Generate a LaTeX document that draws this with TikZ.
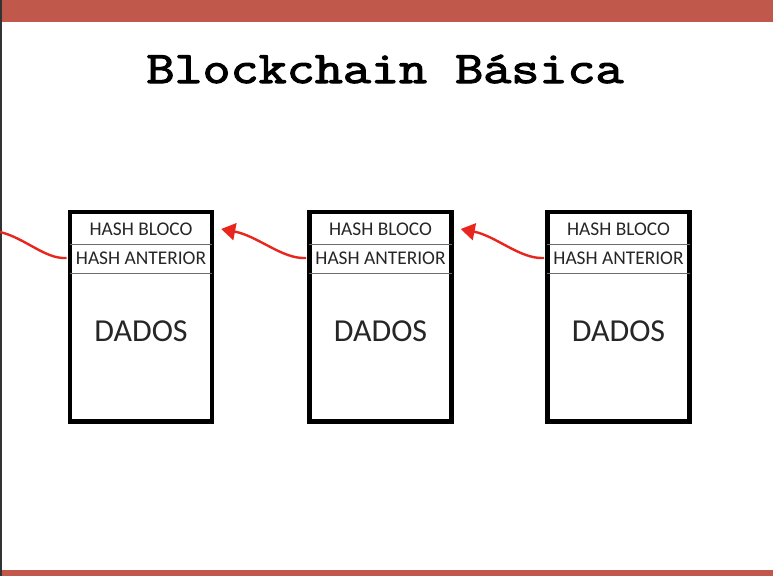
\documentclass[tikz,border=0pt]{standalone}
\usepackage{fontspec}
\setmainfont{Carlito}
\newfontfamily\titlefont{Latin Modern Mono}[FakeBold=2.4]
\usetikzlibrary{arrows.meta}
\definecolor{barred}{HTML}{C0584B}
\definecolor{txt}{HTML}{262626}
\definecolor{arrred}{HTML}{E8261E}
\tikzset{
  blockbox/.style={draw=black, line width=4.5pt, minimum width=142pt, minimum height=209.5pt, inner sep=0pt},
  rowcell/.style={minimum width=142pt, minimum height=29pt, inner sep=0pt, text height=12.5pt, text depth=0pt, text=txt, font=\fontsize{19.4}{20}\selectfont},
  datacell/.style={inner sep=0pt, text height=20.6pt, text depth=0pt, text=txt, font=\fontsize{32}{34}\selectfont},
  sepline/.style={draw=gray!85!black, line width=1.3pt},
  link/.style={draw=arrred, line width=2.4pt, line cap=round},
  linkarrow/.style={link, -{Triangle[length=14pt,width=17pt]}},
}
\begin{document}
\begin{tikzpicture}[x=1pt,y=-1pt]
\useasboundingbox (0,0) rectangle (773,576);
\fill[white] (0,0) rectangle (773,576);
% bars
\fill[barred] (0,0) rectangle (773,22);
\fill[barred] (0,569.5) rectangle (773,576);
\fill[black!80] (0,0) rectangle (2,576);
% title
\node[anchor=base, inner sep=0pt, font=\titlefont\fontsize{54.5}{56}\selectfont] (title) at (385,83) {\scalebox{1}[0.83]{Blockchain Básica}};
% blocks
\foreach \i/\cx in {1/141, 2/380.5, 3/618.5}{
  \node[blockbox] (b\i) at (\cx,316.75) {};
  \node[rowcell] (b\i h) at (\cx,229) {HASH BLOCO};
  \node[rowcell] (b\i a) at (\cx,258) {HASH ANTERIOR};
  \node[datacell] (b\i d) at (\cx,331) {DADOS};
  \draw[sepline] ([yshift=-0.5pt]b\i h.south west) -- ([yshift=-0.5pt]b\i h.south east);
  \draw[sepline] ([yshift=-0.5pt]b\i a.south west) -- ([yshift=-0.5pt]b\i a.south east);
}
% links
\coordinate (offleft) at (0,232);
\draw[linkarrow] ([xshift=-4pt]b2a.west) .. controls (282,259) and (258,236) .. ([xshift=9pt]b1h.east);
\draw[linkarrow] ([xshift=-4pt]b3a.west) .. controls (520,259) and (496,236) .. ([xshift=9pt]b2h.east);
\draw[link] ([xshift=-4pt]b1a.west) .. controls (45,259) and (25,238) .. (offleft);
\end{tikzpicture}
\end{document}
